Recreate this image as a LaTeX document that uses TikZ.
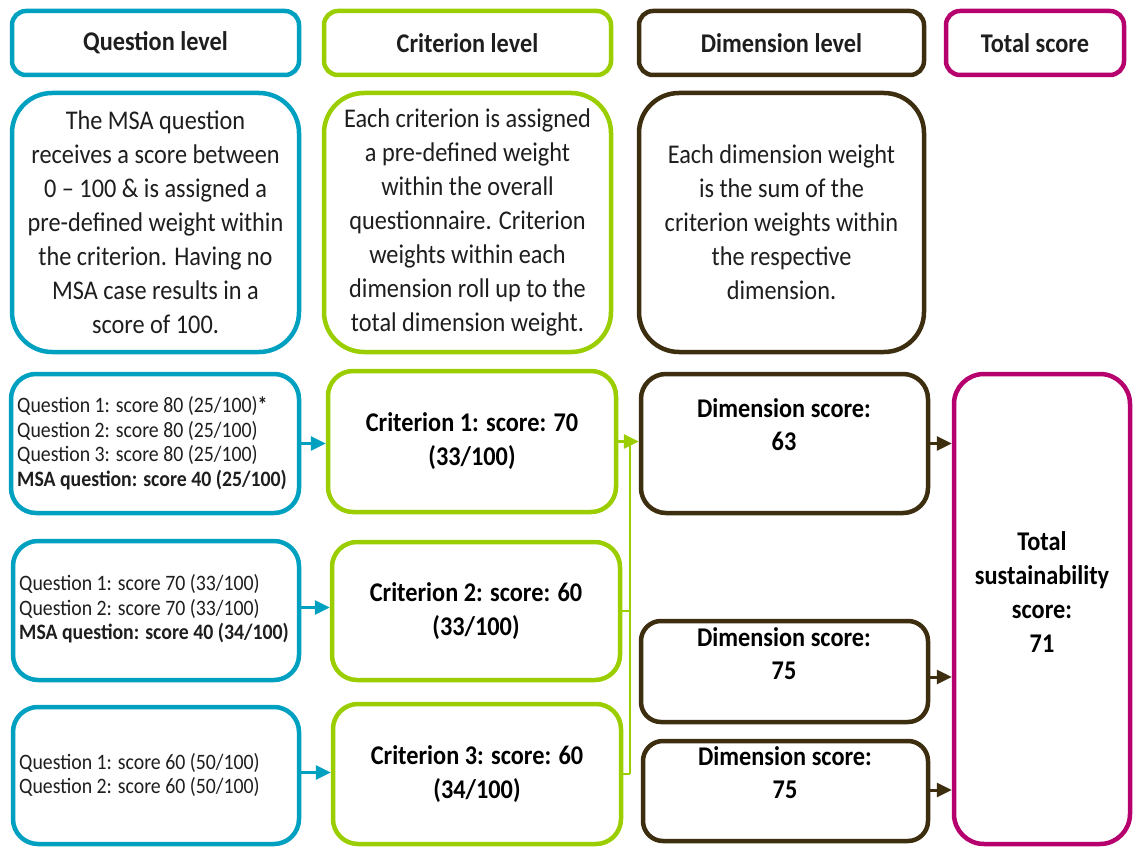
\documentclass[tikz,border=0pt]{standalone}
\usepackage{fontspec}
\setmainfont{Carlito}[FakeStretch=0.9]
\usetikzlibrary{arrows.meta}
\definecolor{cteal}{RGB}{0,160,192}
\definecolor{cgreen}{RGB}{155,206,0}
\definecolor{cbrown}{RGB}{62,46,16}
\definecolor{cmag}{RGB}{182,0,110}
\definecolor{ctext}{RGB}{30,30,30}
\begin{document}
\begin{tikzpicture}[x=1pt,y=-1pt,
  box/.style={draw, line width=4.5pt, fill=white, inner sep=0pt, align=center, text=ctext},
  sz/.style 2 args={minimum width=#1pt, minimum height=#2pt},
  headtxt/.style={font=\fontsize{27}{34}\selectfont\bfseries},
  desctxt/.style={font=\fontsize{27}{34}\selectfont},
  bigtxt/.style={font=\fontsize{27}{34}\selectfont\bfseries, align=center, text=black, inner sep=0pt},
  qtxt/.style={font=\fontsize{22}{24.5}\selectfont, align=left, text=ctext, inner sep=0pt, anchor=west},
  conn/.style={line width=3pt, -{Triangle[length=15pt,width=14pt]}},
  busline/.style={line width=2.5pt, draw=cgreen}
]
\useasboundingbox (0,0) rectangle (1136,848);

% headers
\node[box, draw=cteal, rounded corners=14pt, sz={287}{64}, headtxt] (qh) at (155.5,43) {Question level};
\node[box, draw=cgreen, rounded corners=14pt, sz={287}{64}, headtxt] (ch) at (467.5,43) {Criterion level};
\node[box, draw=cbrown, rounded corners=14pt, sz={285}{64}, headtxt] (dh) at (781.5,43) {Dimension level};
\node[box, draw=cmag, rounded corners=14pt, sz={178}{64}, headtxt] (th) at (1035,43) {Total score};

% descriptions
\node[box, draw=cteal, rounded corners=40pt, sz={287}{259}, desctxt] (qd) at (155.5,222.5)
  {The MSA question\\receives a score between\\0 -- 100 \& is assigned a\\pre-defined weight within\\the criterion. Having no\\MSA case results in a\\score of 100.};
\node[box, draw=cgreen, rounded corners=40pt, sz={287}{259}, desctxt] (cd) at (467.5,222.5)
  {Each criterion is assigned\\a pre-defined weight\\within the overall\\questionnaire. Criterion\\weights within each\\dimension roll up to the\\total dimension weight.};
\node[box, draw=cbrown, rounded corners=40pt, sz={285}{259}, desctxt] (dd) at (781.5,222.5)
  {Each dimension weight\\is the sum of the\\criterion weights within\\the respective\\dimension.};

% question boxes
\node[box, draw=cteal, rounded corners=25pt, sz={288}{139}] (q1) at (155,443.5) {};
\node[box, draw=cteal, rounded corners=25pt, sz={286}{139}] (q2) at (156,610.5) {};
\node[box, draw=cteal, rounded corners=25pt, sz={286}{137}] (q3) at (156,775.5) {};
\node[qtxt] (q1t) at (17,443) {Question 1: score 80 (25/100)\textbf{*}\\Question 2: score 80 (25/100)\\Question 3: score 80 (25/100)\\\textbf{MSA question: score 40 (25/100)}};
\node[qtxt] (q2t) at (19,609) {Question 1: score 70 (33/100)\\Question 2: score 70 (33/100)\\\textbf{MSA question: score 40 (34/100)}};
\node[qtxt] (q3t) at (19,775) {Question 1: score 60 (50/100)\\Question 2: score 60 (50/100)};

% criterion boxes
\node[box, draw=cgreen, rounded corners=25pt, sz={288}{141}, bigtxt] (c1) at (472,441.5) {Criterion 1: score: 70\\(33/100)};
\node[box, draw=cgreen, rounded corners=25pt, sz={288}{138}, bigtxt] (c2) at (476,611) {Criterion 2: score: 60\\(33/100)};
\node[box, draw=cgreen, rounded corners=25pt, sz={288}{140}, bigtxt] (c3) at (477,774) {Criterion 3: score: 60\\(34/100)};

% dimension boxes
\node[box, draw=cbrown, rounded corners=25pt, sz={287}{139}] (d1) at (784.5,443.5) {};
\node[box, draw=cbrown, rounded corners=20pt, sz={287}{101}] (d2) at (784.5,671.5) {};
\node[box, draw=cbrown, rounded corners=20pt, sz={285}{100}] (d3) at (785.5,791) {};
\node[bigtxt, font=\fontsize{27}{33}\selectfont\bfseries] (d1t) at (784,425) {Dimension score:\\63};
\node[bigtxt, font=\fontsize{27}{33}\selectfont\bfseries] (d2t) at (784,654) {Dimension score:\\75};
\node[bigtxt, font=\fontsize{27}{33}\selectfont\bfseries] (d3t) at (785,773) {Dimension score:\\75};

% total box
\node[box, draw=cmag, rounded corners=30pt, sz={176}{470}] (tot) at (1042,609) {};
\node[bigtxt] (tott) at (1042,592) {Total\\sustainability\\score:\\71};

% connectors question -> criterion
\draw[conn, cteal] (q1.east) -- (q1.east -| c1.west);
\draw[conn, cteal] ([yshift=3pt]q2.east) -- ([yshift=3pt]q2.east -| c2.west);
\draw[conn, cteal] ([yshift=3pt]q3.east) -- ([yshift=3pt]q3.east -| c3.west);

% criterion -> dimension
\coordinate (bus) at (630,441.5);
\draw[busline] (c2.east) -- (c2.east -| bus);
\draw[busline] (c3.east) -- (c3.east -| bus);
\draw[busline] (bus) -- (c3.east -| bus);
\draw[conn, cgreen] (c1.east) -- (c1.east -| d1.west);

% dimension -> total
\draw[conn, cbrown] (d1.east) -- (d1.east -| tot.west);
\draw[conn, cbrown] ([yshift=-5.5pt]d2.east) -- ([yshift=-5.5pt]d2.east -| tot.west);
\draw[conn, cbrown] ([yshift=1pt]d3.east) -- ([yshift=1pt]d3.east -| tot.west);
\end{tikzpicture}
\end{document}
